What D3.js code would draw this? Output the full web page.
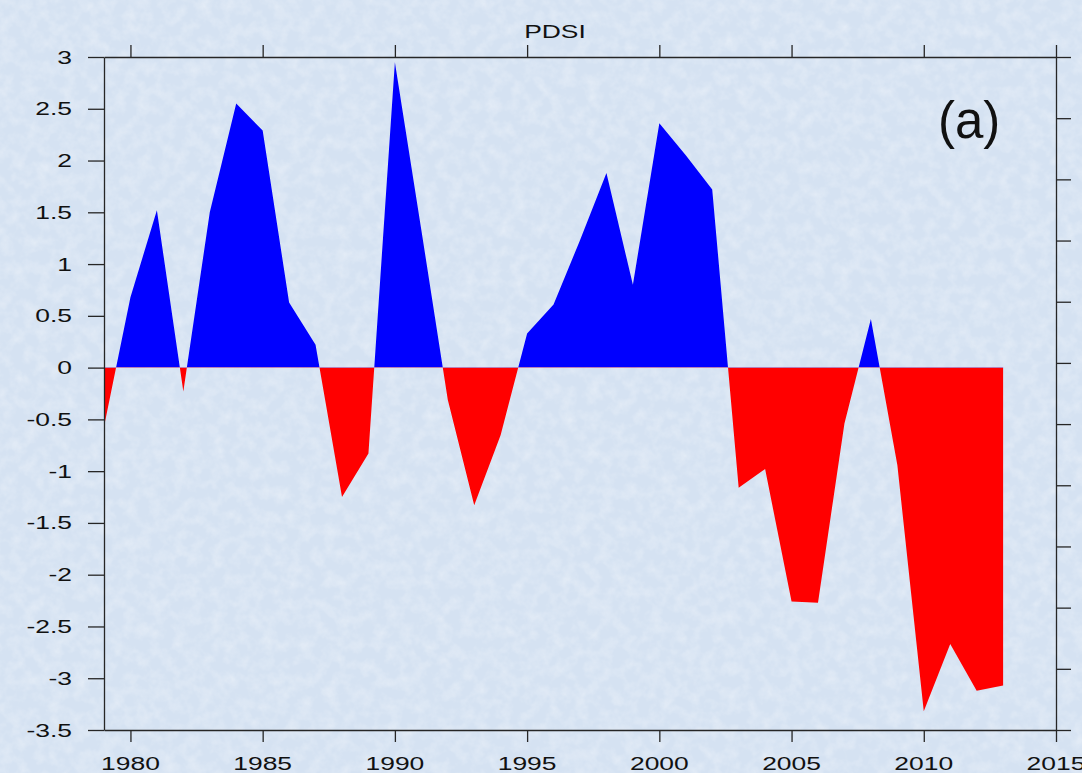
<!DOCTYPE html>
<html>
<head>
<meta charset="utf-8">
<title>PDSI</title>
<script src="https://cdn.jsdelivr.net/npm/d3@7"></script>
<style>
  html, body { margin: 0; padding: 0; background: #d9e6f5; }
  svg { display: block; }
  text { font-family: "Liberation Sans", Arial, Helvetica, sans-serif; fill: #111; }
</style>
</head>
<body>
<svg id="chart" width="1082" height="773"></svg>
<script>
// Annual Palmer Drought Severity Index
const years = [1979, 1980, 1981, 1982, 1983, 1984, 1985, 1986, 1987, 1988,
               1989, 1990, 1991, 1992, 1993, 1994, 1995, 1996, 1997, 1998,
               1999, 2000, 2001, 2002, 2003, 2004, 2005, 2006, 2007, 2008,
               2009, 2010, 2011, 2012, 2013];
const pdsi = [-0.57, 0.68, 1.52, -0.23, 1.50, 2.55, 2.29, 0.63, 0.22, -1.25,
              -0.83, 2.95, 1.33, -0.31, -1.33, -0.65, 0.33, 0.61, 1.23, 1.88,
              0.80, 2.36, 2.05, 1.72, -1.16, -0.98, -2.26, -2.27, -0.54, 0.47,
              -0.94, -3.32, -2.67, -3.12, -3.07];
const xTicks = [1980, 1985, 1990, 1995, 2000, 2005, 2010, 2015];
const yTicks = [3, 2.5, 2, 1.5, 1, 0.5, 0, -0.5, -1, -1.5, -2, -2.5, -3, -3.5];
const titleText = "PDSI";
const panelLabel = "(a)";

(function draw() {
  const svg = d3.select("#chart");
  const W = 1082, H = 773;
  const pLeft = 104, pRight = 1056, pTop = 57, pBottom = 730;
  const stretch = 1.43;   // labels are set in a horizontally widened face

  // background with a soft mottled texture
  const defs = svg.append("defs");
  const tex = defs.append("filter").attr("id", "mottle")
    .attr("x", 0).attr("y", 0).attr("width", "100%").attr("height", "100%");
  tex.append("feTurbulence").attr("type", "fractalNoise")
    .attr("baseFrequency", "0.08").attr("numOctaves", 3).attr("seed", 7).attr("result", "n");
  tex.append("feColorMatrix").attr("in", "n").attr("type", "matrix")
    .attr("values", "0 0 0 0 1  0 0 0 0 1  0 0 0 0 1  1.2 0 0 0 -0.45");
  svg.append("rect").attr("width", W).attr("height", H).attr("fill", "#d5e2f2");
  svg.append("rect").attr("width", W).attr("height", H).attr("filter", "url(#mottle)").attr("opacity", 0.5);

  const x = d3.scaleLinear().domain([1979, 2015]).range([pLeft, pRight]);
  const y = d3.scaleLinear().domain([-3.5, 3]).range([pBottom, pTop]);
  const yRight = d3.scaleLinear().domain([0, 11]).range([pBottom, pTop]);

  const data = years.map((yr, i) => ({ yr, v: pdsi[i] }));
  const y0 = y(0);

  // clip regions above and below the zero line
  defs.append("clipPath").attr("id", "above")
    .append("rect").attr("x", pLeft).attr("y", pTop - 20).attr("width", pRight - pLeft).attr("height", y0 - pTop + 20);
  defs.append("clipPath").attr("id", "below")
    .append("rect").attr("x", pLeft).attr("y", y0).attr("width", pRight - pLeft).attr("height", pBottom - y0 + 20);

  const area = d3.area()
    .x(d => x(d.yr))
    .y0(y0)
    .y1(d => y(d.v));

  svg.append("path").datum(data).attr("d", area)
    .attr("fill", "#0000ff").attr("clip-path", "url(#above)");
  svg.append("path").datum(data).attr("d", area)
    .attr("fill", "#ff0000").attr("clip-path", "url(#below)");

  // axes
  const axisStyle = g => {
    g.selectAll("path, line").attr("stroke", "#262626").attr("stroke-width", 1.3);
    g.selectAll("text").remove();
  };
  svg.append("g").attr("transform", `translate(0,${pBottom})`)
    .call(d3.axisBottom(x).tickValues(xTicks).tickSize(12).tickSizeOuter(0)).call(axisStyle);
  svg.append("g").attr("transform", `translate(0,${pTop})`)
    .call(d3.axisTop(x).tickValues(xTicks).tickSize(12).tickSizeOuter(0)).call(axisStyle);
  svg.append("g").attr("transform", `translate(${pLeft},0)`)
    .call(d3.axisLeft(y).tickValues(yTicks).tickSize(16).tickSizeOuter(0)).call(axisStyle);
  svg.append("g").attr("transform", `translate(${pRight},0)`)
    .call(d3.axisRight(yRight).ticks(11).tickSize(15).tickSizeOuter(0)).call(axisStyle);
  svg.selectAll(".domain").attr("fill", "none");

  // tick labels
  svg.append("g").selectAll("text").data(xTicks).join("text")
    .attr("transform", d => `translate(${x(d)},770) scale(${stretch},1)`)
    .attr("text-anchor", "middle").attr("font-size", 18.5)
    .text(d => d);
  svg.append("g").selectAll("text").data(yTicks).join("text")
    .attr("transform", d => `translate(72,${y(d) + 6.5}) scale(${stretch},1)`)
    .attr("text-anchor", "end").attr("font-size", 18.5)
    .text(d => String(d));

  // title and panel label
  svg.append("text")
    .attr("transform", `translate(555,38) scale(${stretch},1)`)
    .attr("text-anchor", "middle").attr("font-size", 18.5)
    .text(titleText);
  svg.append("text")
    .attr("x", 938).attr("y", 138)
    .attr("font-size", 51)
    .text(panelLabel);
})();
</script>
</body>
</html>
